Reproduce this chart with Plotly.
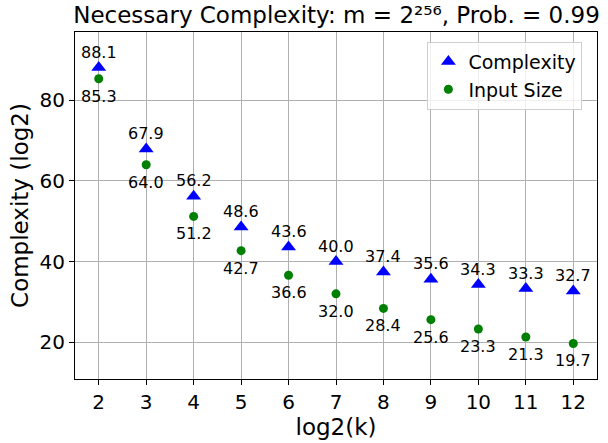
import plotly.graph_objects as go

log2k = [2, 3, 4, 5, 6, 7, 8, 9, 10, 11, 12]
complexity = [88.1, 67.9, 56.2, 48.6, 43.6, 40.0, 37.4, 35.6, 34.3, 33.3, 32.7]
input_size = [85.3, 64.0, 51.2, 42.7, 36.6, 32.0, 28.4, 25.6, 23.3, 21.3, 19.7]
x_ticks = [2, 3, 4, 5, 6, 7, 8, 9, 10, 11, 12]
y_ticks = [20, 40, 60, 80]

FONT = "DejaVu Sans"

fig = go.Figure()
fig.add_trace(go.Scatter(
    x=log2k, y=complexity, mode="markers", name="Complexity",
    marker=dict(symbol="triangle-up", size=13, color="#0000ff"),
))
fig.add_trace(go.Scatter(
    x=log2k, y=input_size, mode="markers", name="Input Size",
    marker=dict(symbol="circle", size=9, color="#008000"),
))

annotations = []
for xv, yv in zip(log2k, complexity):
    annotations.append(dict(x=xv, y=yv, text=f"{yv:.1f}", showarrow=False,
                            xanchor="center", yanchor="bottom", yshift=4,
                            font=dict(family=FONT, size=16, color="black")))
for xv, yv in zip(log2k, input_size):
    annotations.append(dict(x=xv, y=yv, text=f"{yv:.1f}", showarrow=False,
                            xanchor="center", yanchor="top", yshift=-6,
                            font=dict(family=FONT, size=16, color="black")))

axis_common = dict(
    showgrid=True, gridcolor="#b0b0b0", gridwidth=0.8,
    showline=True, linecolor="black", linewidth=1, mirror=True,
    ticks="outside", ticklen=5, tickcolor="black", tickwidth=1,
    zeroline=False, tickfont=dict(family=FONT, size=20, color="black"),
)

fig.update_layout(
    width=608, height=443,
    margin=dict(l=75, r=10, t=32, b=60),
    paper_bgcolor="white", plot_bgcolor="white",
    font=dict(family=FONT, color="black"),
    title=dict(text="Necessary Complexity: m = 2²⁵⁶, Prob. = 0.99",
               x=0.5535, xanchor="center", y=0.984, yanchor="top",
               font=dict(family=FONT, size=23, color="black")),
    xaxis=dict(range=[1.5, 12.5], tickvals=x_ticks,
               title=dict(text="log2(k)", font=dict(family=FONT, size=23), standoff=3),
               **axis_common),
    yaxis=dict(range=[10.9, 96.9], tickvals=y_ticks,
               title=dict(text="Complexity (log2)", font=dict(family=FONT, size=23), standoff=4),
               **axis_common),
    legend=dict(x=0.972, y=0.972, xanchor="right", yanchor="top",
                bgcolor="rgba(255,255,255,0.8)", bordercolor="#d0d0d0", borderwidth=1,
                font=dict(family=FONT, size=19, color="black")),
    annotations=annotations,
    showlegend=True,
)

fig.write_html("out.html")
